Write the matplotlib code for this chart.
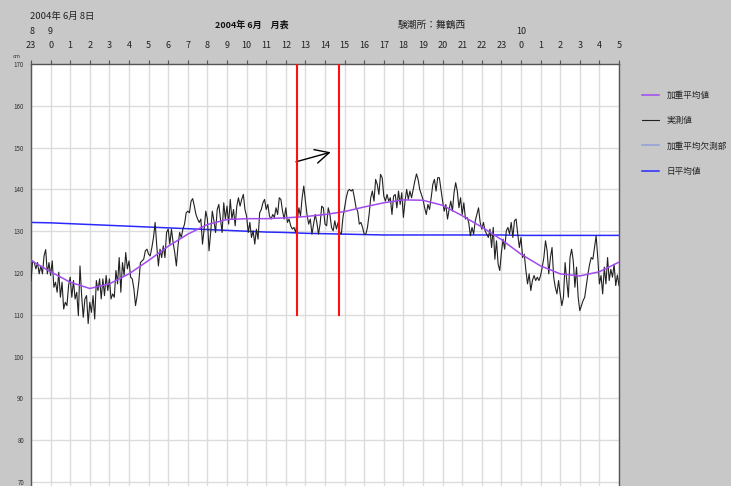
import numpy as np
import matplotlib
matplotlib.use("Agg")
import matplotlib.pyplot as plt
from matplotlib.transforms import blended_transform_factory

plt.rcParams['font.family'] = ['Noto Sans CJK JP', 'DejaVu Sans']

# 時刻軸: 0 = 6月8日 23時, 1時間単位
hour_labels = ['23'] + [str(h) for h in range(24)] + [str(h) for h in range(6)]
hours = np.arange(len(hour_labels))

# 実測値 (5分間隔, cm)
jissoku = [
    # 8日23時 - 9日5時
    118.2, 122.9, 122.5, 121.0, 122.5, 119.8, 121.7, 119.8, 124.1, 125.6,
    119.8, 122.5, 119.4, 122.9, 116.6, 117.8, 115.4, 120.2, 114.2, 117.8,
    111.4, 113.0, 112.2, 117.0, 119.0, 114.2, 118.2, 113.8, 115.4, 109.8,
    121.7, 114.6, 109.4, 113.8, 114.6, 107.9, 113.0, 110.6, 114.6, 109.0,
    118.2, 115.8, 118.6, 113.8, 118.6, 114.6, 119.4, 115.8, 118.6, 113.8,
    115.0, 114.2, 120.6, 117.4, 123.7, 115.4, 122.5, 119.4, 124.9, 121.0,
    122.9, 119.0, 118.6, 116.2, 112.2, 114.6, 117.8, 122.5, 122.9, 123.3,
    125.3, 125.7, 124.5,
    # 9日5時 - 11時
    124.1, 126.1, 128.5, 132.1, 126.5, 121.7, 125.7, 123.7, 126.5, 123.7,
    129.7, 130.5, 126.9, 130.5, 127.3, 124.9, 121.7, 126.5, 129.7, 128.5,
    130.5, 131.7, 134.4, 134.8, 134.4, 137.2, 137.8, 136.0, 134.0, 132.9,
    132.1, 132.9, 126.9, 130.5, 134.8, 132.9, 125.3, 129.7, 134.8, 132.5,
    129.7, 135.2, 136.4, 132.9, 129.7, 136.8, 132.9, 136.0, 131.7, 137.6,
    132.9, 135.2, 131.3, 136.0, 138.0, 136.0, 137.6, 138.8, 135.2, 133.6,
    129.7, 132.1, 128.5, 130.1, 126.9, 130.5, 128.1, 134.4, 135.2, 136.8,
    137.6, 135.2, 136.4, 133.6, 132.9,
    # 9日11時 - 17時
    134.0, 133.3, 135.6, 134.0, 138.0, 137.6, 134.8, 132.9, 135.6, 132.1,
    132.9, 131.3, 130.5, 130.9, 129.7, 132.5, 135.6, 133.6, 138.0, 140.8,
    137.2, 134.0, 131.7, 132.9, 129.3, 131.7, 134.0, 132.1, 129.3, 131.7,
    136.0, 135.6, 131.7, 131.3, 135.6, 134.0, 130.9, 130.1, 132.5, 130.5,
    132.1, 129.7, 129.3, 133.3, 135.6, 138.0, 139.6, 140.0, 139.6, 140.0,
    138.0, 135.6, 134.8, 131.7, 132.1, 130.9, 129.3, 129.3, 130.9, 134.0,
    138.0, 139.6, 137.2, 142.4, 141.2, 138.8, 143.6, 142.8, 138.4, 137.2,
    138.8, 137.2, 138.0,
    # 9日17時 - 23時
    134.0, 138.4, 138.8, 135.6, 139.6, 136.4, 139.2, 133.3, 137.2, 140.0,
    137.6, 139.6, 138.0, 140.0, 142.0, 143.7, 142.4, 140.0, 138.8, 137.6,
    135.6, 134.0, 136.4, 135.2, 138.0, 141.2, 142.4, 139.6, 142.8, 142.8,
    140.0, 137.2, 134.8, 136.4, 132.9, 135.2, 137.2, 134.8, 139.2, 141.6,
    139.6, 135.6, 138.0, 134.0, 136.8, 132.9, 133.3, 132.1, 128.9, 130.9,
    129.3, 132.5, 134.0, 135.6, 132.1, 130.5, 132.1, 130.1, 129.3, 128.5,
    130.5, 126.1, 130.9, 123.3, 127.7, 122.1, 120.6, 124.9, 128.1, 125.7,
    130.1, 130.9, 129.3, 132.1,
    # 9日23時 - 10日5時
    128.5, 132.5, 132.9, 129.3, 126.1, 128.5, 123.7, 124.5, 120.6, 117.4,
    119.8, 115.8, 118.2, 119.4, 118.2, 119.0, 118.2, 119.4, 121.4, 123.7,
    127.7, 125.3, 119.8, 123.7, 126.1, 119.0, 116.6, 115.0, 118.2, 115.0,
    112.2, 114.2, 122.5, 118.2, 114.2, 123.7, 125.7, 122.9, 116.6, 121.4,
    114.2, 111.0, 112.2, 113.4, 114.2, 117.0, 119.8, 122.1, 123.7, 123.3,
    126.1, 128.9, 123.7, 117.4, 119.4, 115.0, 121.4, 117.4, 123.7, 118.2,
    120.9, 119.0, 122.1, 117.0, 119.5, 117.0,
]
jissoku_t = np.arange(len(jissoku)) / 12.0

# 加重平均値 (毎時)
kaju = [123.0, 120.3, 117.8, 116.3, 117.4, 119.8, 123.0, 126.4, 129.3, 131.6,
        132.8, 133.0, 133.0, 133.2, 133.5, 134.0, 134.7, 135.8, 136.8, 137.5,
        137.4, 136.2, 133.7, 131.0, 128.0, 124.5, 121.7, 119.8, 119.3, 120.3,
        122.6]

# 日平均値 (毎時)
nichiheikin = [132.1, 132.0, 131.8, 131.6, 131.4, 131.2, 131.0, 130.8, 130.6, 130.4,
               130.2, 130.0, 129.8, 129.7, 129.5, 129.4, 129.3, 129.2, 129.1, 129.1,
               129.1, 129.1, 129.1, 129.1, 129.1, 129.0, 129.0, 129.0, 129.0, 129.0,
               129.0]

# 赤線の時刻
red_t = [13.55, 15.72]

bg = '#c8c8c8'
fig = plt.figure(figsize=(7.31, 4.86), dpi=100, facecolor=bg)
# グラフ枠は画像の下端まで続く
ax = fig.add_axes([31 / 731, 0, 588 / 731, 422 / 486])
ax.set_facecolor('white')

ax.set_xlim(0, 30)
ax.set_ylim(69.05, 170)

for h in hours:
    ax.axvline(h, color='#dcdcdc', lw=1, zorder=0)
for v in range(70, 170, 10):
    ax.axhline(v, color='#dcdcdc', lw=1, zorder=0)

l_nichi, = ax.plot(hours, nichiheikin, color='#2a2aff', lw=1.1, zorder=2, label='日平均値')
l_jis, = ax.plot(jissoku_t, jissoku, color='#222222', lw=0.8, zorder=3, label='実測値')
l_kaju, = ax.plot(hours, kaju, color='#a04af0', lw=1.1, zorder=4, label='加重平均値')
l_ketsu, = ax.plot([], [], color='#8fa0d8', lw=1.1, label='加重平均欠測部')

for t in red_t:
    ax.plot([t, t], [110, 170], color='#ff1010', lw=1.5, zorder=5)

ax.annotate('', xy=(15.29, 148.9), xytext=(13.52, 146.6),
            arrowprops=dict(arrowstyle='->,head_length=1.0,head_width=0.5',
                            color='black', lw=1.0, shrinkA=0, shrinkB=0))

# 時刻目盛 (上側)
ax.xaxis.tick_top()
ax.set_xticks(hours)
ax.set_xticklabels(hour_labels, fontsize=6.5, color='#222222')
ax.tick_params(axis='x', length=3, width=0.8, color='#555555', pad=7)

ax.set_yticks(range(70, 171, 10))
ax.set_yticklabels([str(v) for v in range(70, 171, 10)], fontsize=4.5, color='#333333')
ax.tick_params(axis='y', length=0, pad=5)

for s in ['left', 'top', 'right']:
    ax.spines[s].set_color('#555555')
    ax.spines[s].set_linewidth(1.0)
ax.spines['bottom'].set_visible(False)

# 日付
tr = blended_transform_factory(ax.transData, ax.transAxes)
ax.text(0.05, 1.077, '8', transform=tr, fontsize=6.5, ha='center', va='center', color='#222222')
ax.text(1.0, 1.077, '9', transform=tr, fontsize=6.5, ha='center', va='center', color='#222222')
ax.text(25.0, 1.077, '10', transform=tr, fontsize=6.5, ha='center', va='center', color='#222222')

fig.text(30 / 731, 1 - 16 / 486, '2004年 6月 8日', fontsize=6.8, va='center', color='#222222')
fig.text(215 / 731, 1 - 25 / 486, '2004年 6月　月表', fontsize=6.5, fontweight='bold',
         va='center', color='#111111')
fig.text(398 / 731, 1 - 25 / 486, '験潮所：舞鶴西', fontsize=7, va='center', color='#222222')
fig.text(13 / 731, 1 - 57 / 486, 'cm', fontsize=4, va='center', color='#333333')

fig.legend(handles=[l_kaju, l_jis, l_ketsu, l_nichi], loc='upper left',
           bbox_to_anchor=(634 / 731, 1 - 83 / 486), frameon=False, fontsize=6.2,
           labelspacing=1.9, handlelength=2.0, handletextpad=0.9,
           labelcolor='#222222')

fig.savefig('out.png', dpi=100, facecolor=bg)
